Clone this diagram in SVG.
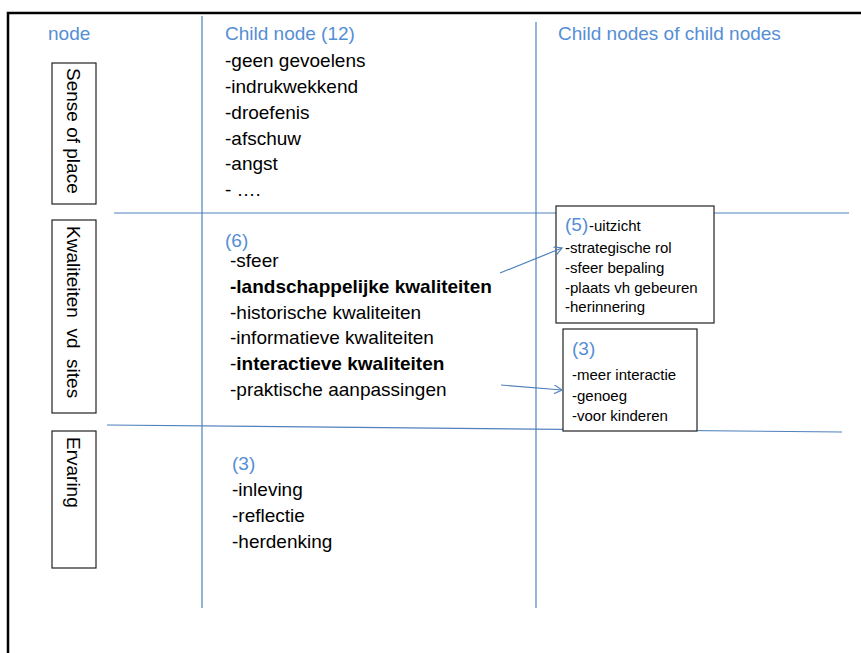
<svg xmlns="http://www.w3.org/2000/svg" width="861" height="653" viewBox="0 0 861 653">
<defs>
<style>
.t{font-family:"Liberation Sans",Arial,sans-serif;font-size:19px;fill:#000;white-space:pre}
.h{font-family:"Liberation Sans",Arial,sans-serif;font-size:19px;fill:#558ED5}
.s{font-family:"Liberation Sans",Arial,sans-serif;font-size:15px;fill:#000}
.b{font-weight:bold}
.grid{stroke:#4F81BD;stroke-width:1.2;fill:none}
.box{fill:#fff;stroke:#222;stroke-width:1.2}
.arr{stroke:#4F81BD;stroke-width:1.2;fill:none;marker-end:url(#ah)}
</style>
<marker id="ah" viewBox="0 0 10 10" refX="9" refY="5" markerWidth="9" markerHeight="9" markerUnits="userSpaceOnUse" orient="auto">
<path d="M0,0 L9,5 L0,10" fill="none" stroke="#4F81BD" stroke-width="1.3"/>
</marker>
</defs>
<rect width="861" height="653" fill="#fff"/>
<path d="M8,653 V13 H861" fill="none" stroke="#000" stroke-width="2.5"/>

<g id="grid">
<line class="grid" x1="202" y1="16" x2="202" y2="608"/>
<line class="grid" x1="536" y1="22" x2="536" y2="608"/>
<line class="grid" x1="114" y1="213" x2="849" y2="213"/>
<line class="grid" x1="107" y1="425" x2="842" y2="432"/>
</g>

<g id="headers">
<text class="h" x="48" y="40">node</text>
<text class="h" x="225" y="40">Child node (12)</text>
<text class="h" x="558" y="40">Child nodes of child nodes</text>
</g>

<g id="node-sense">
<rect class="box" x="52" y="63" width="44" height="141"/>
<text class="t" transform="translate(67,68) rotate(90)">Sense of place</text>
</g>
<g id="node-kwaliteiten">
<rect class="box" x="52" y="220" width="44" height="193"/>
<text class="t" transform="translate(67,226) rotate(90)">Kwaliteiten  vd  sites</text>
</g>
<g id="node-ervaring">
<rect class="box" x="52" y="431" width="44" height="137"/>
<text class="t" transform="translate(67,437) rotate(90)">Ervaring</text>
</g>

<g id="children-sense">
<text class="t" x="225" y="67">-geen gevoelens</text>
<text class="t" x="225" y="93">-indrukwekkend</text>
<text class="t" x="225" y="119">-droefenis</text>
<text class="t" x="225" y="145">-afschuw</text>
<text class="t" x="225" y="170">-angst</text>
<text class="t" x="225" y="196">- ….</text>
</g>

<g id="children-kwaliteiten">
<text class="h" x="225" y="247">(6)</text>
<text class="t" x="230" y="267">-sfeer</text>
<text class="t b" x="230" y="293">-landschappelijke kwaliteiten</text>
<text class="t" x="230" y="319">-historische kwaliteiten</text>
<text class="t" x="230" y="344">-informatieve kwaliteiten</text>
<text class="t" x="230" y="370">-<tspan class="b">interactieve kwaliteiten</tspan></text>
<text class="t" x="230" y="396">-praktische aanpassingen</text>
</g>

<g id="children-ervaring">
<text class="h" x="232" y="470">(3)</text>
<text class="t" x="232" y="496">-inleving</text>
<text class="t" x="232" y="522">-reflectie</text>
<text class="t" x="232" y="548">-herdenking</text>
</g>

<g id="sub-landschap">
<rect class="box" x="556" y="206" width="158" height="117"/>
<text class="h" x="565" y="231">(5)</text>
<text class="s" x="589" y="231">-uitzicht</text>
<text class="s" x="565" y="253">-strategische rol</text>
<text class="s" x="565" y="273">-sfeer bepaling</text>
<text class="s" x="565" y="293">-plaats vh gebeuren</text>
<text class="s" x="565" y="312">-herinnering</text>
</g>

<g id="sub-interactief">
<rect class="box" x="563" y="329" width="134" height="102"/>
<text class="h" x="572" y="355">(3)</text>
<text class="s" x="572" y="380">-meer interactie</text>
<text class="s" x="572" y="401">-genoeg</text>
<text class="s" x="572" y="421">-voor kinderen</text>
</g>

<g id="connectors">
<line class="arr" x1="500" y1="273" x2="562" y2="248"/>
<line class="arr" x1="501" y1="385" x2="562" y2="390"/>
</g>
</svg>
